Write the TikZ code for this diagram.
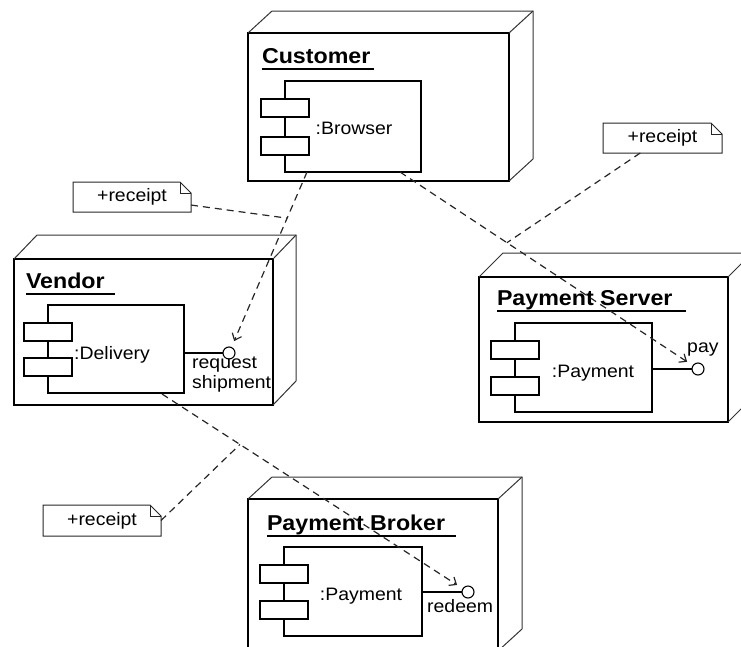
\documentclass[tikz,border=0pt]{standalone}
\usepackage{fontspec}
\setmainfont{Liberation Sans}
\newfontfamily\lblfont[FakeStretch=1.08]{Liberation Sans}
\usetikzlibrary{arrows.meta,calc}

% 3D deployment node: name, x, y, width, height, depth dx, depth dy
\newcommand\deploynode[7]{%
  \node[frontface, minimum width=#4pt, minimum height=#5pt] (#1) at (#2,#3) {};
  \draw[backedge] (#1.north west) -- ++(#6,#7) -- ($(#1.north east)+(#6,#7)$)
        -- ($(#1.south east)+(#6,#7)$) -- (#1.south east);
  \draw[backedge] (#1.north east) -- ++(#6,#7);
}
% node title with underline: name, x, baseline, text, underline end x
\newcommand\nodetitle[5]{%
  \node[titletext, anchor=base west] (#1) at (#2,#3) {#4};
  \draw[line width=1.2pt] ($(#1.base west)+(0,6)$) -- ($(#1.base west -| #5,0)+(0,6)$);
}
% component box with two small tabs: name, x, y, width, height
\newcommand\component[5]{%
  \node[compbox, minimum width=#4pt, minimum height=#5pt] (#1) at (#2,#3) {};
  \node[tab, anchor=north] (#1-a) at ($(#1.north west)+(0,18)$) {};
  \node[tab, anchor=south] (#1-b) at ($(#1.south west)+(0,-17)$) {};
}
% note with folded corner: name, x, y, width, height, text
\newcommand\notebox[6]{%
  \node[anchor=north west, minimum width=#4pt, minimum height=#5pt,
        inner sep=0pt, outer sep=0pt, lbl] (#1) at (#2,#3) {#6};
  \draw[noteline] (#1.north west) -- ($(#1.north east)+(-11,0)$)
        -- ($(#1.north east)+(0,11)$) -- (#1.south east) -- (#1.south west) -- cycle;
  \draw[noteline] ($(#1.north east)+(-11,0)$) -- ($(#1.north east)+(-11,11)$)
        -- ($(#1.north east)+(0,11)$);
}

\begin{document}
\begin{tikzpicture}[x=1pt, y=-1pt,
  lbl/.style={font=\lblfont\fontsize{18}{20}\selectfont},
  titletext/.style={font=\lblfont\bfseries\fontsize{21.5}{24}\selectfont, inner sep=0pt, outer sep=0pt},
  frontface/.style={draw, line width=1.3pt, anchor=north west, inner sep=0pt, outer sep=0pt},
  backedge/.style={draw=black!80, line width=1pt},
  compbox/.style={draw, line width=1.2pt, anchor=north west, inner sep=0pt, outer sep=0pt},
  tab/.style={draw, line width=1.2pt, fill=white, minimum width=48pt, minimum height=18pt, inner sep=0pt, outer sep=0pt},
  port/.style={circle, draw, line width=1.1pt, fill=white, minimum size=12pt, inner sep=0pt, outer sep=0pt},
  noteline/.style={draw=black!85, line width=1pt},
  dep/.style={draw=black!85, line width=1.2pt, dash pattern=on 7pt off 5pt,
              -{Straight Barb[length=6pt, width=10pt]}, shorten >=7pt},
  anchorline/.style={draw=black!85, line width=1.2pt, dash pattern=on 7pt off 5pt}]

\useasboundingbox (0,0) rectangle (741,646);
\clip (0,0) rectangle (741,646);

% deployment nodes
\deploynode{customer}{248}{33}{261}{148}{24}{-22}
\deploynode{vendor}{14}{259}{259}{146}{23}{-24}
\deploynode{server}{479}{277}{249}{145}{24}{-24}
\deploynode{broker}{248}{499}{250}{152}{24}{-22}

\nodetitle{customertitle}{262}{63}{Customer}{374}
\nodetitle{vendortitle}{26}{288}{Vendor}{115}
\nodetitle{servertitle}{497}{305}{Payment Server}{686}
\nodetitle{brokertitle}{267}{530}{Payment Broker}{456}

% components
\component{browser}{285}{81}{136}{91}
\node[lbl, anchor=base] (browserlbl) at (354,134) {:Browser};

\component{delivery}{48}{305}{136}{88}
\node[lbl, anchor=base] (deliverylbl) at (112,359) {:Delivery};

\component{srvpay}{515}{323}{137}{89}
\node[lbl, anchor=base] (srvpaylbl) at (593,377) {:Payment};

\component{brkpay}{284}{547}{138}{89}
\node[lbl, anchor=base] (brkpaylbl) at (361,600) {:Payment};

% provided interfaces
\node[port] (reqc) at (229,353) {};
\draw[line width=1.2pt] (reqc.west) -- (reqc.west -| delivery.east);
\node[lbl, anchor=base west, inner sep=0pt] (reqlbl) at (192,368) {request};
\node[lbl, anchor=base west, inner sep=0pt] (shiplbl) at (192,388) {shipment};

\node[port] (payc) at (698,369) {};
\draw[line width=1.2pt] (payc.west) -- (payc.west -| srvpay.east);
\node[lbl, anchor=base west, inner sep=0pt] (paylbl) at (687,352) {pay};

\node[port] (redc) at (468,592) {};
\draw[line width=1.2pt] (redc.west) -- (redc.west -| brkpay.east);
\node[lbl, anchor=base west, inner sep=0pt] (redlbl) at (427,612) {redeem};

% notes
\notebox{note1}{73}{182}{118}{30}{+receipt}
\notebox{note2}{603}{123}{119}{30}{+receipt}
\notebox{note3}{43}{505}{118}{31}{+receipt}

% dependencies
\draw[dep] ($(browser.south west)+(22,0)$) -- coordinate[pos=0.263] (j1) (reqc);
\draw[dep] ($(browser.south east)+(-21,0)$) -- coordinate[pos=0.365] (j2) (payc);
\draw[dep] ($(delivery.south west)+(114,1)$) -- coordinate[pos=0.259] (j3) (redc);

% note anchors
\draw[anchorline] (note1) -- (j1);
\draw[anchorline] (note2) -- (j2);
\draw[anchorline] (note3.east) -- (j3);

\end{tikzpicture}
\end{document}
